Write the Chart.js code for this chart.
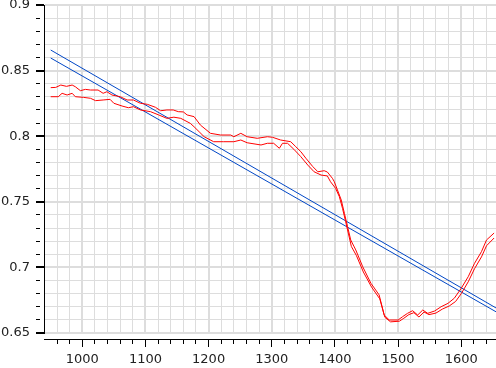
<!DOCTYPE html>
<html>
<head>
<meta charset="utf-8">
<script src="https://cdn.jsdelivr.net/npm/chart.js@4"></script>
<style>
  html, body { margin: 0; padding: 0; background: #fff; }
</style>
</head>
<body>
<canvas id="chart" width="496" height="368"></canvas>
<script>
// Tick labels (major) and minor tick steps
const xLabels = [1000, 1100, 1200, 1300, 1400, 1500, 1600];
const yLabels = [0.65, 0.7, 0.75, 0.8, 0.85, 0.9];
const xMinorStep = 20;
const yMinorStep = 0.01;
const xRange = [939.4, 1655];
const yRange = [0.65, 0.9];

// Upper red curve
const red1X = [950, 958, 966, 975, 984, 989, 997, 1005, 1013, 1025, 1033, 1039, 1047, 1060, 1071, 1081, 1092, 1103,
  1116, 1124, 1134, 1144, 1152, 1160, 1166, 1177, 1187, 1203, 1219, 1235, 1240, 1251, 1261, 1277, 1293, 1301, 1314,
  1330, 1338, 1346, 1354, 1365, 1373, 1383, 1388, 1396, 1399, 1404, 1410, 1415, 1420, 1425, 1433, 1444, 1457, 1470,
  1478, 1486, 1500, 1507, 1515, 1523, 1531, 1539, 1547, 1558, 1568, 1579, 1589, 1600, 1611, 1621, 1632, 1640, 1652];
const red1Y = [0.8370, 0.8372, 0.8390, 0.8380, 0.8390, 0.8377, 0.8347, 0.8357, 0.8352, 0.8352, 0.8327, 0.8339, 0.8314,
  0.8301, 0.8276, 0.8276, 0.8251, 0.8243, 0.8220, 0.8194, 0.8200, 0.8200, 0.8187, 0.8185, 0.8162, 0.8149, 0.8085,
  0.8022, 0.8009, 0.8009, 0.7996, 0.8022, 0.7996, 0.7984, 0.7996, 0.7992, 0.7971, 0.7958, 0.7920, 0.7882, 0.7832,
  0.7768, 0.7729, 0.7737, 0.7727, 0.7679, 0.7653, 0.7590, 0.7514, 0.7412, 0.7310, 0.7209, 0.7133, 0.7005, 0.6879,
  0.6790, 0.6637, 0.6599, 0.6599, 0.6624, 0.6650, 0.6670, 0.6637, 0.6675, 0.6650, 0.6668, 0.6700, 0.6726, 0.6765,
  0.6841, 0.6929, 0.7031, 0.7120, 0.7209, 0.7262];

// Lower red curve
const red2X = [950, 962, 968, 976, 984, 989, 1002, 1013, 1021, 1033, 1044, 1050, 1063, 1073, 1081, 1092, 1108, 1121,
  1134, 1145, 1156, 1171, 1177, 1185, 1193, 1208, 1224, 1240, 1251, 1261, 1283, 1293, 1303, 1312, 1317, 1325, 1335,
  1346, 1357, 1367, 1378, 1388, 1393, 1401, 1407, 1412, 1417, 1420, 1426, 1434, 1445, 1458, 1471, 1479, 1488, 1502,
  1509, 1517, 1525, 1533, 1541, 1549, 1560, 1570, 1581, 1591, 1600, 1611, 1621, 1632, 1640, 1652];
const red2Y = [0.8301, 0.8301, 0.8327, 0.8314, 0.8327, 0.8301, 0.8296, 0.8289, 0.8271, 0.8276, 0.8281, 0.8251, 0.8230,
  0.8217, 0.8225, 0.8200, 0.8187, 0.8162, 0.8136, 0.8145, 0.8136, 0.8098, 0.8072, 0.8034, 0.7996, 0.7958, 0.7958,
  0.7958, 0.7971, 0.7950, 0.7933, 0.7946, 0.7946, 0.7908, 0.7946, 0.7946, 0.7900, 0.7844, 0.7780, 0.7729, 0.7704,
  0.7697, 0.7653, 0.7603, 0.7539, 0.7450, 0.7348, 0.7285, 0.7160, 0.7090, 0.6965, 0.6850, 0.6760, 0.6620, 0.6585,
  0.6590, 0.6612, 0.6640, 0.6655, 0.6622, 0.6660, 0.6640, 0.6652, 0.6682, 0.6706, 0.6740, 0.6800, 0.6890, 0.6990,
  0.7080, 0.7165, 0.7224];

// Blue straight lines
const blueX = [950, 1660];
const blue1Y = [0.8657, 0.6677];
const blue2Y = [0.8596, 0.6648];

const zip = (xs, ys) => xs.map((x, i) => ({ x: x, y: ys[i] }));

function tickList(from, to, step) {
  const out = [];
  for (let v = from; v <= to + step / 2; v += step) out.push(+v.toFixed(4));
  return out;
}
const xTicks = tickList(960, 1640, xMinorStep);
const yTicks = tickList(yRange[0], yRange[1], yMinorStep);

const isMajorX = v => xLabels.includes(v);
const isMajorY = v => yLabels.some(l => Math.abs(l - v) < 1e-6);

const tickFont = { family: 'DejaVu Sans', size: 13 };
const gridColor = '#dddddd';

const ctx = document.getElementById('chart').getContext('2d');
new Chart(ctx, {
  type: 'line',
  data: {
    datasets: [
      { data: zip(red1X, red1Y), borderColor: '#ff0000' },
      { data: zip(red2X, red2Y), borderColor: '#ff0000' },
      { data: zip(blueX, blue1Y), borderColor: '#0047c6' },
      { data: zip(blueX, blue2Y), borderColor: '#0047c6' }
    ]
  },
  options: {
    responsive: false,
    animation: false,
    layout: { padding: { top: 5, right: 0, bottom: 0, left: 0 } },
    elements: {
      point: { radius: 0 },
      line: { borderWidth: 1, tension: 0, fill: false }
    },
    plugins: { legend: { display: false }, tooltip: { enabled: false } },
    scales: {
      // data axis: grid only, leaves a small gap under the plot
      x: {
        type: 'linear',
        position: 'bottom',
        min: xRange[0],
        max: xRange[1],
        afterBuildTicks: s => { s.ticks = xTicks.map(v => ({ value: v })); },
        ticks: { display: false },
        border: { display: false },
        grid: {
          color: gridColor,
          lineWidth: c => (c.tick && isMajorX(c.tick.value)) ? 2 : 1,
          drawTicks: true,
          tickLength: 6,
          tickColor: 'rgba(0,0,0,0)'
        },
        afterFit: s => { s.height = 6; }
      },
      // visible x axis with line, ticks and labels
      xb: {
        axis: 'x',
        type: 'linear',
        position: 'bottom',
        min: xRange[0],
        max: xRange[1],
        afterBuildTicks: s => { s.ticks = xTicks.map(v => ({ value: v })); },
        ticks: {
          autoSkip: false,
          maxRotation: 0,
          padding: 5,
          color: '#222',
          font: tickFont,
          callback: v => isMajorX(v) ? String(v) : ''
        },
        border: { display: true, color: '#000', width: 1 },
        grid: {
          drawOnChartArea: false,
          drawTicks: true,
          tickLength: 8,
          tickColor: '#000',
          tickBorderDash: c => (c.tick && isMajorX(c.tick.value)) ? [] : [4, 20]
        },
        afterFit: s => { s.height = 29; }
      },
      y: {
        type: 'linear',
        min: yRange[0],
        max: yRange[1],
        afterBuildTicks: s => { s.ticks = yTicks.map(v => ({ value: v })); },
        ticks: {
          autoSkip: false,
          padding: 6,
          color: '#222',
          font: tickFont,
          callback: v => isMajorY(v) ? String(Math.round(v * 100) / 100) : ''
        },
        border: { display: true, color: '#000', width: 1 },
        grid: {
          color: gridColor,
          lineWidth: c => (c.tick && isMajorY(c.tick.value)) ? 2 : 1,
          tickLength: 8,
          tickColor: '#000',
          tickBorderDash: c => (c.tick && isMajorY(c.tick.value)) ? [] : [4, 20]
        },
        afterFit: s => { s.width = 44; s.paddingTop = 0; s.paddingBottom = 0; }
      }
    }
  }
});
</script>
</body>
</html>
